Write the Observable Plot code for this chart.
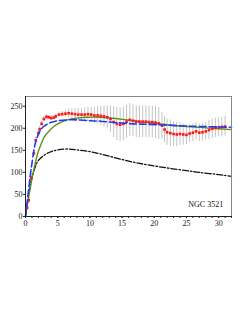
<!DOCTYPE html>
<html><head><meta charset="utf-8">
<script src="https://cdn.jsdelivr.net/npm/d3@7"></script>
<script src="https://cdn.jsdelivr.net/npm/@observablehq/plot@0.6"></script>
<style>body{margin:0;background:#fff}</style>
</head><body><div id="chart"></div>
<script>
const obsR = [0.25,0.5,0.9,1.3,1.6,2.0,2.2,2.5,2.85,3.25,3.6,4.0,4.4,4.7,5.2,5.7,6.2,6.7,7.2,7.7,8.2,8.7,9.2,9.7,10.2,10.7,11.2,11.7,12.2,12.7,13.2,13.7,14.2,14.7,15.2,15.7,16.2,16.7,17.2,17.7,18.2,18.7,19.2,19.7,20.2,20.7,21.2,21.6,22.0,22.5,23.0,23.5,24.0,24.5,25.0,25.5,26.0,26.5,27.0,27.5,28.0,28.5,29.0,29.5,30.0,30.5,31.0];
const obsV = [20,37,87,143,173,189,198,210,221,226,225,223,224,227,231,232,233,234,233,232,231,231,231,232,231,229,229,228,227,225,221,214,210,208,210,215,219,217,215,215,215,215,214,214,213,211,206,197,191,189,187,186,187,186,185,188,190,193,190,191,193,196,199,201,202,203,204];
const obsErr = [5,8,10,8,6,6,6,6,6,5,5,5,5,5,6,6,8,10,12,12,14,14,15,16,16,18,20,22,24,25,30,35,38,38,38,38,37,36,36,36,36,36,36,36,36,36,30,30,30,30,28,28,26,24,22,20,20,20,20,20,20,22,22,22,22,22,22];

const blueR = [0,0.4,0.8,1.0,1.3,1.7,2.3,3,3.9,5,6.5,8,10,11.6,14,16.8,19,22,25,27,30,32];
const blueV = [0,50,100,120,150,175,195,206,213,217,219,219,217,216,213,210,209,207,205,204,203,202];
const greenR = [0,0.5,1,1.5,2,2.5,3,4,5,6.5,8,9.5,11.6,14,16.8,19,22,25,27,30,32];
const greenV = [0,45,85,120,148,167,182,199,210,219,223,225,225,222,217,213,208,204,202,199,197];
const blackR = [0,0.5,1,1.5,2,3,4,5,6.5,8,10,11.6,14,16.8,19,22,25,27,30,32];
const blackV = [0,50,88,112,127,140,147,151,153,151,147,142,133,123,117,110,104,100,95,91];

const xLabels = [0,5,10,15,20,25,30];
const yLabels = [0,50,100,150,200,250];
const galaxy = "NGC 3521";

const obs = obsR.map((r,i)=>({r, v: obsV[i], lo: obsV[i]-obsErr[i], hi: obsV[i]+obsErr[i]}));
const blue = blueR.map((r,i)=>({r, v: blueV[i]}));
const green = greenR.map((r,i)=>({r, v: greenV[i]}));
const black = blackR.map((r,i)=>({r, v: blackV[i]}));

const chart = Plot.plot({
  width: 249, height: 323,
  marginLeft: 25, marginRight: 18, marginTop: 96, marginBottom: 107,
  style: {fontFamily: "'Liberation Serif', serif", fontSize: "8px", background: "#fff"},
  x: {domain: [0, 32], label: null},
  y: {domain: [0, 272], label: null},
  marks: [
    Plot.ruleX(obs, {x: "r", y1: "lo", y2: "hi", stroke: "#c4c4c4", strokeWidth: 1}),
    Plot.line(black, {x: "r", y: "v", stroke: "#111", strokeWidth: 1.3, strokeDasharray: "6,2,1.5,2", curve: "natural"}),
    Plot.line(green, {x: "r", y: "v", stroke: "#5f8c1c", strokeWidth: 1.4, curve: "natural"}),
    Plot.dot(obs, {x: "r", y: "v", symbol: "square", r: 1.5, fill: "#ff1a1a", stroke: "none"}),
    Plot.line(blue, {x: "r", y: "v", stroke: "#1f3cf5", strokeWidth: 1.6, strokeDasharray: "7,3", curve: "natural"}),
    Plot.frame({stroke: "#888"}),
    Plot.ruleX([0], {stroke: "#222"}),
    Plot.ruleY([0], {stroke: "#222"}),
    Plot.axisX({ticks: d3.range(0, 33, 1), tickSize: 2, tickFormat: () => "", stroke: "#222", label: null}),
    Plot.axisX({ticks: xLabels, tickSize: 2, tickPadding: 2, stroke: "#222", fill: "#222", label: null}),
    Plot.axisY({ticks: yLabels, tickSize: 2, tickPadding: 1, stroke: "#222", fill: "#222", label: null}),
    Plot.text([galaxy], {x: 28, y: 27, text: d => d, fontSize: 8, fill: "#111"})
  ]
});
document.getElementById("chart").append(chart);
</script>
</body></html>
